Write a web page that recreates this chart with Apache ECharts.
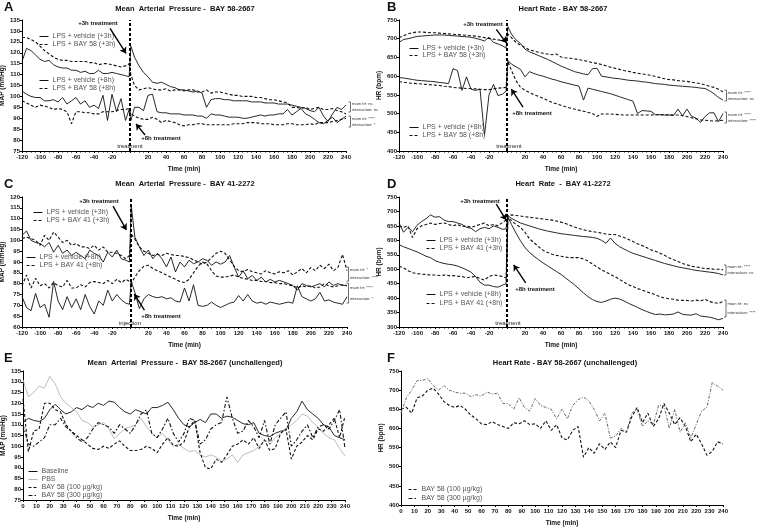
<!DOCTYPE html>
<html><head><meta charset="utf-8">
<script src="https://cdn.jsdelivr.net/npm/echarts@6/dist/echarts.min.js"></script>
<style>html,body{margin:0;padding:0;background:#fff}#c{width:766px;height:528px}</style>
</head><body><div id="c"></div>
<script>
// ---------- time bases ----------
const tLPS = [-120,-115,-110,-105,-100,-95,-90,-85,-80,-75,-70,-65,-60,-55,-50,-45,-40,-35,-30,-25,-20,-15,-10,-5,-1,1,5,10,15,20,25,30,35,40,45,50,55,60,65,70,75,80,85,90,95,100,105,110,115,120,125,130,135,140,145,150,155,160,165,170,175,180,185,190,195,200,205,210,215,220,225,230,235,240];
const tUn = [0,4,8,12,16,20,24,28,32,36,40,44,48,52,56,60,64,68,72,76,80,84,88,92,96,100,104,108,112,116,120,124,128,132,136,140,144,148,152,156,160,164,168,172,176,180,184,188,192,196,200,204,208,212,216,220,224,228,232,236,240];

// ---------- A: MAP BAY 58-2667 ----------
const mapVeh3 = [116,122,121,119,117,116,116.5,114.5,113.5,113,113,112,112,111,111.5,110.5,110.5,112,110.5,110.5,111,110.5,110,109.5, 109,123, 118,114,111,109,106.5,106,106.5,105.5,104.5,104, 103,103,102.5,102,102.5,101.5,95,98.5,99,99, 98.5,98.5,98,98,98,98,97.5,97.5,97.5,97, 97,97,96.5,96.5,96.5,96,95.5,95,94.5,93.5, 93,95,91,88.5,92,95,94,96];
const mapBay58_3 = [127,127,126,125,123,121,119.5,118,117,116.5,116.5,116,116,116,116,115.5,115.5,114.5,115,115,114.5,114,113.5,114, 115,110, 105,103,103.5,104,103.5,103,103,103.5,102.5,103, 103,102.5,103,103,102,102,103,101.5,102,102, 101.5,101,100.5,100.5,100,100,100,99.5,99.5,99, 98.5,98.5,98,97.5,97,95,95,94.5,95,94, 94.5,95,94,94,94.5,93.5,93,92];
const mapVeh8 = [102.5,101,100,99.5,99.5,98,98,98.5,97.5,99.5,96.5,98,99.5,96.5,98,95,96,94.5,100.5,89,101,93,99,89, 94,89, 95,95,93.5,100.5,101,93,92.5,92.5,92,92, 92,91.5,91.5,91.5,91,91,90,92,91.5,91.5, 91,90.5,90.5,90.5,90,90,90.5,91,91.5,91, 91.5,91.5,92,92,94,91.5,93,94.5,92,91, 89.5,88,87.5,89,90.5,88,89.5,91];
const mapBay58_8 = [98,97,96,95,96,95.5,95,94,94.5,94,93,87.5,93,93,92.5,92.5,92,92,93,93,93,93.5,94,94, 94.5,92, 91,90,89.5,89.5,90.5,89.5,88,89,88.5,88, 87,86.5,87,87,87.5,87.5,87,87,87,87, 87,87,87.5,87.5,87.5,88,88,88,87.5,87.5, 87.5,87,87,87,87.5,87.5,87,87,87,87.5, 87,88,88,88,88.5,89,89.5,90];

// ---------- B: HR BAY 58-2667 ----------
const hrVeh3 = [690,698,700,703,706,707,708,709,710,710,710,709,708,707,706,705,704,701,698,694,704,690,686,681, 675,732, 712,697,687,672,665,660,655,650,645,639, 633,627,622,617,612,609,606,604,620,621, 600,598,596,594,593,591,589,588,587,585, 584,582,580,579,578,576,575,574,573,572, 571,570,568,567,561,553,543,536];
const hrBay58_3 = [703,708,713,716,718,718,717,716,716,715,714,713,712,711,710,709,708,707,705,703,701,699,697,695, 692,712, 703,690,683,677,670,667,664,661,659,657, 659,651,649,648,646,644,642,639,636,634, 631,628,624,621,618,615,613,610,608,606, 604,602,599,596,593,591,590,588,587,586, 584,582,580,577,573,570,565,558];
const hrVeh8 = [596,595,593,591,589,588,587,586,585,583,582,580,620,615,562,598,565,562,565,442,550,578,548,552, 560,642, 632,625,618,598,612,607,603,600,596,592, 589,585,582,579,576,573,536,568,565,562, 559,556,553,549,545,541,537,533,500,508, 507,506,497,497,496,496,495,512,494,512, 493,488,476,492,502,502,478,500];
const hrBay58_8 = [585,584,582,581,580,579,578,577,576,575,573,572,570,569,568,567,567,566,565,564,564,566,568,569, 570,640, 615,588,570,562,556,550,546,541,535,530, 526,522,518,515,512,509,506,503,500,492, 499,499,499,498,497,496,496,496,496,496, 496,496,497,497,497,497,496,496,494,492, 489,486,483,482,481,480,481,482];

// ---------- C: MAP BAY 41-2272 ----------
const mapCVeh3 = [102.3,104.3,100,99,98.5,97,99,94.5,97.7,94,95.5,93,94.5,93,91.5,95.5,94,93,90,94.5,92.3,95.5,91.5,90.8, 90,116, 101.5,97,93,95.5,91.5,94,91.5,87.7,92.3,85.4, 90,87.7,90.8,89.2,90,91.5,90.8,88.5,90,89, 90,93,87.7,83,86,82.3,83.8,81.5,83,80.8, 82,80.8,81.5,80.8,80,79.2,77,80,79.2,78.5, 79.2,80,78.5,80.8,79.2,80,79.2,79.2];
const mapBay41_3 = [100.8,101.5,100.8,100,97.7,102.3,100,103.8,101.5,99,100,97.7,98.5,97,97,96.2,97.7,95.5,97,94.5,94.5,94,93,91.5, 93,103, 100.5,97,95,94,93,93.5,93,94,93.5,93, 93,92.5,92,91,90,89,90,92,94,95, 94,91,88,86,85.5,86.5,85.5,85,84.5,86, 85,84.5,85.5,85,86,84,85.5,87,85,87.5, 86,88.5,87,89,86,87.5,93.5,86];
const mapCVeh8 = [74,69,67.5,75.5,69,70.5,64.5,81,72,68,74,69,73,68,75,69.5,66,72,70,77,72,75,72.5,71, 70.5,81, 76,68.5,73,75,74,73.5,74,73,73.5,72, 71.5,78,72,79.5,70,69.5,70,71.5,70,69, 70,71,71.5,74.5,72,75,72,71,71.5,70.5, 71.5,71,70.5,71,71.5,71,79,74,73,72, 73,76,72,72.5,71.5,71,70.5,74];
const mapBay41_8 = [79,84,78,82.5,79,80,78,80.5,79,78.5,81.5,78,78,79.5,78.5,80.5,81,80.5,80,81.5,80,82,80.5,82, 81,80, 83,86,88,88.5,87,86,85,84,83,82, 81,80.5,82,85,88,90,89,86,83.5,83, 83,83.5,84,83,82.5,82,81.5,81.5,81,81, 80.5,80.5,80,80,79.5,79,78,79,78.5,79, 78,78.5,80,79,78.5,79,79.5,79];

// ---------- D: HR BAY 41-2272 ----------
const hrDVeh3 = [660,628,645,630,652,665,675,688,680,682,670,665,665,660,655,645,642,630,640,645,640,650,645,638, 640,685, 676,668,660,655,650,645,640,636,632,629, 626,623,621,619,617,615,613,612,610,607, 600,590,608,590,578,570,562,555,550,545, 540,535,530,525,520,516,512,508,505,502, 499,496,494,492,490,488,485,480];
const hrBay41_3 = [650,645,650,610,640,650,655,660,655,658,660,655,650,655,648,650,645,650,655,660,650,655,650,662, 670,685, 688,686,684,682,680,678,676,674,672,670, 667,663,658,652,646,641,637,633,630,628, 625,622,620,620,615,610,603,596,588,582, 575,567,562,555,548,540,533,527,520,515, 510,508,505,502,502,500,500,498];
const hrDVeh8 = [585,578,572,566,560,553,545,540,530,524,520,517,515,511,505,498,490,475,455,445,445,440,438,445, 450,680, 655,625,598,575,558,545,533,522,512,502, 492,482,470,458,446,432,418,405,395,388, 385,390,396,400,397,390,382,375,368,360, 354,348,343,345,342,343,345,352,344,342, 341,346,338,336,334,330,325,330];
const hrBay41_8 = [510,505,495,488,485,483,482,480,480,478,480,478,478,476,475,470,473,475,468,462,475,480,478,475, 470,680, 668,655,645,628,605,592,578,566,558,552, 548,545,542,540,540,540,535,528,518,508, 498,490,482,474,465,455,446,440,433,428, 422,417,411,405,400,398,396,393,392,392, 390,393,390,396,388,384,382,388];

// ---------- E: MAP unchallenged ----------
const mapBaseline = [111,113,112,111.5,113,117,119.5,117,115,116, 118,117,119,118,120,119,121,120.5,118,116, 115,117,116,115,118,118,119,120.5,117,113, 110,109,111,112.5,111,115,115,113,114,113.5, 112,110.5,110,111,106,105,104.5,106,107,107.5, 113,116,121,117,115,113,110,109,105,104, 103];
const mapPBS = [131,123,125,128,127,132.5,129,123,120,118, 116,112,111,109,110,111,108,103.5,106,108, 109,110,113,109,106,104,106,103,100,101, 99,97.5,98,96,95,96,95,93,94,96, 92.5,96,97,98,100,103,101,104,106,108, 110,112,115,114,111,109,106,104,103,99, 95.5];
const mapB100 = [122,97.5,107,108,120,120,117,116,110,107, 105,103,101,99,98.5,100,99,101,102.5,100, 98,98,98.5,100,99,97,101,104,100.5,100, 102,109,112,97,90,89.5,94,92.5,96,100, 101,103,101,104,99,103,98,99,106,108, 94,100,102,105,103,108,107,110,113,104, 114];
const mapB300 = [110,101,100,102,104,110,110,113,109,107, 104,102,104,108,111,110,109,106,110,108, 106,110,115,117,106,104,108,113,106,102, 106,113,112,101,103,108,110,111,123,113, 106,107,112,109,104,112,101,110,113,116, 100,103,107,110,104,109,110,108,112,117, 99];

// ---------- F: HR unchallenged ----------
const hrB100 = [650,655,640,680,685,700,705,690,670,660, 655,660,650,635,625,612,610,618,610,605, 600,615,612,620,610,612,600,620,595,610, 575,570,595,605,525,550,535,560,545,565, 550,595,590,630,655,615,640,605,625,665, 640,610,628,605,565,585,560,530,540,565, 560];
const hrB300 = [640,680,700,725,726,730,712,700,712,700, 695,692,692,683,688,685,695,690,692,665, 665,650,680,655,645,678,660,655,650,625, 650,625,660,675,682,672,650,620,640,575, 580,600,590,640,650,605,620,610,660,660, 600,650,590,615,575,610,645,655,720,710, 700];

// ---------- arrows (data coords) ----------
const arrA = [[[-22.2,131.2],[-4.4,119.7]], [[16.7,82.3],[6.7,87.4]]];
const arrB = [[[-11.9,725],[-0.8,689]], [[17.8,517],[4.8,565]]];
const arrC = [[[-19.2,115.8],[-4.4,104.8]], [[15.6,67.8],[4.4,75.2]]];
const arrD = [[[-11.9,725],[-1,670]], [[20.8,453],[7.4,515]]];

const FONT = 'Arial, "Liberation Sans", Helvetica, sans-serif';
const STY = {
  solid: {color:'#111', width:0.9, type:'solid'},
  dash: {color:'#111', width:1.1, type:[3,2]},
  dashdot: {color:'#111', width:1.1, type:[4,2,1.5,2]},
  grey: {color:'#b5b5b5', width:0.9, type:'solid'},
  greydd: {color:'#666', width:1.0, type:[3,1.5,1,1.5]}
};
function pairs(t, v){ return t.map((x,i)=>[x, v[i]]); }
function treat(){ return {silent:true, symbol:['none','none'], label:{show:false}, animation:false,
  lineStyle:{color:'#000', width:2, type:[3,2]}, data:[{xAxis:0}]}; }
function arrows(list){ return {silent:true, symbol:['none','arrow'], symbolSize:6, label:{show:false}, animation:false,
  lineStyle:{color:'#000', width:1.4, type:'solid'}, data:list.map(a=>[{coord:a[0]},{coord:a[1]}])}; }
function ln(name, i, t, v, st, ml){
  const s = {type:'line', name, xAxisIndex:i, yAxisIndex:i, data:pairs(t,v), symbol:'none', showSymbol:false,
    lineStyle:st, itemStyle:{color:st.color}, color:st.color, animation:false, silent:true, z:2};
  if (ml) s.markLine = ml;
  return s;
}
const nameStyle = {fontSize:6.5, fontWeight:'bold', fontFamily:FONT, color:'#111'};
function xAx(i, min, max, interval, hideZero, minor){
  return {type:'value', gridIndex:i, min, max, interval, name:'Time (min)', nameLocation:'middle', nameGap:15,
    nameTextStyle:nameStyle,
    axisLine:{show:true, onZero:false, lineStyle:{color:'#000', width:1}},
    axisTick:{show:true, length:2, lineStyle:{color:'#000'}},
    minorTick:{show:minor, splitNumber:4, length:1.5, lineStyle:{color:'#000'}},
    splitLine:{show:false}, minorSplitLine:{show:false},
    axisLabel:{fontSize:6, fontWeight:'bold', fontFamily:FONT, color:'#111', margin:3,
      formatter: v => (hideZero && v === 0) ? '' : String(v)}};
}
function yAx(i, min, max, interval, name){
  return {type:'value', gridIndex:i, min, max, interval, name, nameLocation:'middle', nameGap:15, nameRotate:90,
    nameTextStyle:nameStyle,
    axisLine:{show:true, onZero:false, lineStyle:{color:'#000', width:1}},
    axisTick:{show:true, length:2, lineStyle:{color:'#000'}},
    splitLine:{show:false},
    axisLabel:{fontSize:6, fontWeight:'bold', fontFamily:FONT, color:'#111', margin:2}};
}
function lg(left, top, data, gap){
  return {left, top, orient:'vertical', data, itemWidth:9, itemHeight:6, itemGap:gap, padding:0,
    selectedMode:false, itemStyle:{opacity:0, borderWidth:0}, lineStyle:{width:1},
    textStyle:{fontSize:7, color:'#555', fontFamily:FONT, padding:[0,0,0,-1]}};
}
function txt(text, x, y, size, weight, align, color){
  return {type:'text', x, y, silent:true, z:50, style:{text, fontSize:size, fontWeight:weight, fontFamily:FONT,
    fill:color||'#111', textAlign:align, align:align, textVerticalAlign:'middle', verticalAlign:'middle'}};
}
function bracket(x, y1, y2, l1, l2){
  const ym1 = y1 + (y2-y1)*0.22, ym2 = y1 + (y2-y1)*0.78;
  return [
    {type:'polyline', silent:true, z:50, shape:{points:[[x-2,y1],[x,y1],[x,y2],[x-2,y2]]}, style:{stroke:'#333', lineWidth:0.7, fill:null}},
    txt(l1, x+1.5, ym1, 4.2, 'normal', 'left', '#333'),
    txt(l2, x+1.5, ym2, 4.2, 'normal', 'left', '#333')
  ];
}

const grids = [
  {left:22, top:20, width:324, height:131},
  {left:399, top:20, width:324, height:131},
  {left:22, top:197, width:325, height:130},
  {left:399, top:197, width:324, height:130},
  {left:23, top:371, width:322, height:129},
  {left:401, top:371, width:322, height:134}
].map(g => Object.assign(g, {containLabel:false, outerBoundsMode:'none'}));

const option = {
  animation:false,
  backgroundColor:'#fff',
  grid: grids,
  xAxis: [xAx(0,-120,240,20,true,true), xAx(1,-120,240,20,true,true), xAx(2,-120,240,20,true,true),
          xAx(3,-120,240,20,true,true), xAx(4,0,240,10,false,false), xAx(5,0,240,10,false,false)],
  yAxis: [yAx(0,75,135,5,'MAP (mmHg)'), yAx(1,400,750,50,'HR (bpm)'), yAx(2,60,120,5,'MAP (mmHg)'),
          yAx(3,300,750,50,'HR (bpm)'), yAx(4,75,135,5,'MAP (mmHg)'), yAx(5,400,750,50,'HR (bpm)')],
  legend: [
    lg(39, 33, ['LPS + vehicle (+3h)','LPS + BAY 58 (+3h)'], 1),
    lg(39, 77, ['LPS + vehicle (+8h)','LPS + BAY 58 (+8h)'], 1),
    lg(409, 45, ['LPS + vehicle (+3h)','LPS + BAY 58 (+3h)'], 0),
    lg(409, 124, ['LPS + vehicle (+8h)','LPS + BAY 58 (+8h)'], 1),
    lg(33, 209, ['LPS + vehicle (+3h)','LPS + BAY 41 (+3h)'], 1),
    lg(26, 254, ['LPS + vehicle (+8h)','LPS + BAY 41 (+8h)'], 1),
    lg(426, 237, ['LPS + vehicle (+3h)','LPS + BAY 41 (+3h)'], 1),
    lg(426, 291, ['LPS + vehicle (+8h)','LPS + BAY 41 (+8h)'], 2),
    lg(28, 468, ['Baseline','PBS','BAY 58 (100 µg/kg)','BAY 58 (300 µg/kg)'], 1),
    lg(408, 486, ['BAY 58 (100 µg/kg)','BAY 58 (300 µg/kg)'], 2)
  ],
  series: [
    ln('LPS + vehicle (+3h)', 0, tLPS, mapVeh3, STY.solid, treat()),
    ln('LPS + BAY 58 (+3h)', 0, tLPS, mapBay58_3, STY.dash, arrows(arrA)),
    ln('LPS + vehicle (+8h)', 0, tLPS, mapVeh8, STY.solid),
    ln('LPS + BAY 58 (+8h)', 0, tLPS, mapBay58_8, STY.dash),

    ln('LPS + vehicle (+3h)', 1, tLPS, hrVeh3, STY.solid, treat()),
    ln('LPS + BAY 58 (+3h)', 1, tLPS, hrBay58_3, STY.dash, arrows(arrB)),
    ln('LPS + vehicle (+8h)', 1, tLPS, hrVeh8, STY.solid),
    ln('LPS + BAY 58 (+8h)', 1, tLPS, hrBay58_8, STY.dash),

    ln('LPS + vehicle (+3h)', 2, tLPS, mapCVeh3, STY.solid, treat()),
    ln('LPS + BAY 41 (+3h)', 2, tLPS, mapBay41_3, STY.dash, arrows(arrC)),
    ln('LPS + vehicle (+8h)', 2, tLPS, mapCVeh8, STY.solid),
    ln('LPS + BAY 41 (+8h)', 2, tLPS, mapBay41_8, STY.dash),

    ln('LPS + vehicle (+3h)', 3, tLPS, hrDVeh3, STY.solid, treat()),
    ln('LPS + BAY 41 (+3h)', 3, tLPS, hrBay41_3, STY.dash, arrows(arrD)),
    ln('LPS + vehicle (+8h)', 3, tLPS, hrDVeh8, STY.solid),
    ln('LPS + BAY 41 (+8h)', 3, tLPS, hrBay41_8, STY.dash),

    ln('Baseline', 4, tUn, mapBaseline, STY.solid),
    ln('PBS', 4, tUn, mapPBS, STY.grey),
    ln('BAY 58 (100 µg/kg)', 4, tUn, mapB100, STY.dash),
    ln('BAY 58 (300 µg/kg)', 4, tUn, mapB300, STY.dashdot),

    ln('BAY 58 (100 µg/kg)', 5, tUn, hrB100, STY.dash),
    ln('BAY 58 (300 µg/kg)', 5, tUn, hrB300, STY.greydd)
  ],
  graphic: [].concat(
    [
      txt('A', 4, 7, 13, 'bold', 'left'), txt('B', 387, 7, 13, 'bold', 'left'),
      txt('C', 4, 184, 13, 'bold', 'left'), txt('D', 387, 184, 13, 'bold', 'left'),
      txt('E', 4, 358, 13, 'bold', 'left'), txt('F', 387, 358, 13, 'bold', 'left'),
      txt('Mean  Arterial  Pressure -  BAY 58-2667', 185, 9, 7.5, 'bold', 'center'),
      txt('Heart Rate - BAY 58-2667', 563, 9, 7.5, 'bold', 'center'),
      txt('Mean  Arterial  Pressure -  BAY 41-2272', 185, 184, 7.5, 'bold', 'center'),
      txt('Heart  Rate  -  BAY 41-2272', 563, 184, 7.5, 'bold', 'center'),
      txt('Mean  Arterial  Pressure -  BAY 58-2667 (unchallenged)', 185, 363, 7.5, 'bold', 'center'),
      txt('Heart Rate - BAY 58-2667 (unchallenged)', 565, 363, 7.5, 'bold', 'center'),

      txt('+3h treatment', 98, 23, 6, 'bold', 'center'),
      txt('+8h treatment', 161, 138, 6, 'bold', 'center'),
      txt('treatment', 130, 146, 6, 'normal', 'center', '#222'),
      txt('+3h treatment', 483, 24, 6, 'bold', 'center'),
      txt('+8h treatment', 532, 113, 6, 'bold', 'center'),
      txt('treatment', 509, 146, 6, 'normal', 'center', '#222'),
      txt('+3h treatment', 99, 201, 6, 'bold', 'center'),
      txt('+8h treatment', 161, 316, 6, 'bold', 'center'),
      txt('injection', 130, 323, 6, 'normal', 'center', '#222'),
      txt('+3h treatment', 480, 201, 6, 'bold', 'center'),
      txt('+8h treatment', 535, 289, 6, 'bold', 'center'),
      txt('treatment', 508, 323, 6, 'normal', 'center', '#222')
    ],
    bracket(350.5, 102, 112, 'main trt: ns', 'interaction: ns'),
    bracket(350.5, 116, 127, 'main trt: ****', 'interaction: *'),
    bracket(726.5, 90, 101, 'main trt: ****', 'interaction: ns'),
    bracket(726.5, 112, 123, 'main trt: ****', 'interaction: ****'),
    bracket(348.5, 267, 281, 'main trt: *', 'interaction: ****'),
    bracket(348.5, 283, 303, 'main trt: ****', 'interaction: *'),
    bracket(726, 265, 275, 'main trt: ****', 'interaction: ns'),
    bracket(726, 300, 317, 'main trt: ns', 'interaction: ****')
  )
};
const chart = echarts.init(document.getElementById('c'), null, {renderer:'canvas'});
chart.setOption(option);
</script>
</body></html>
